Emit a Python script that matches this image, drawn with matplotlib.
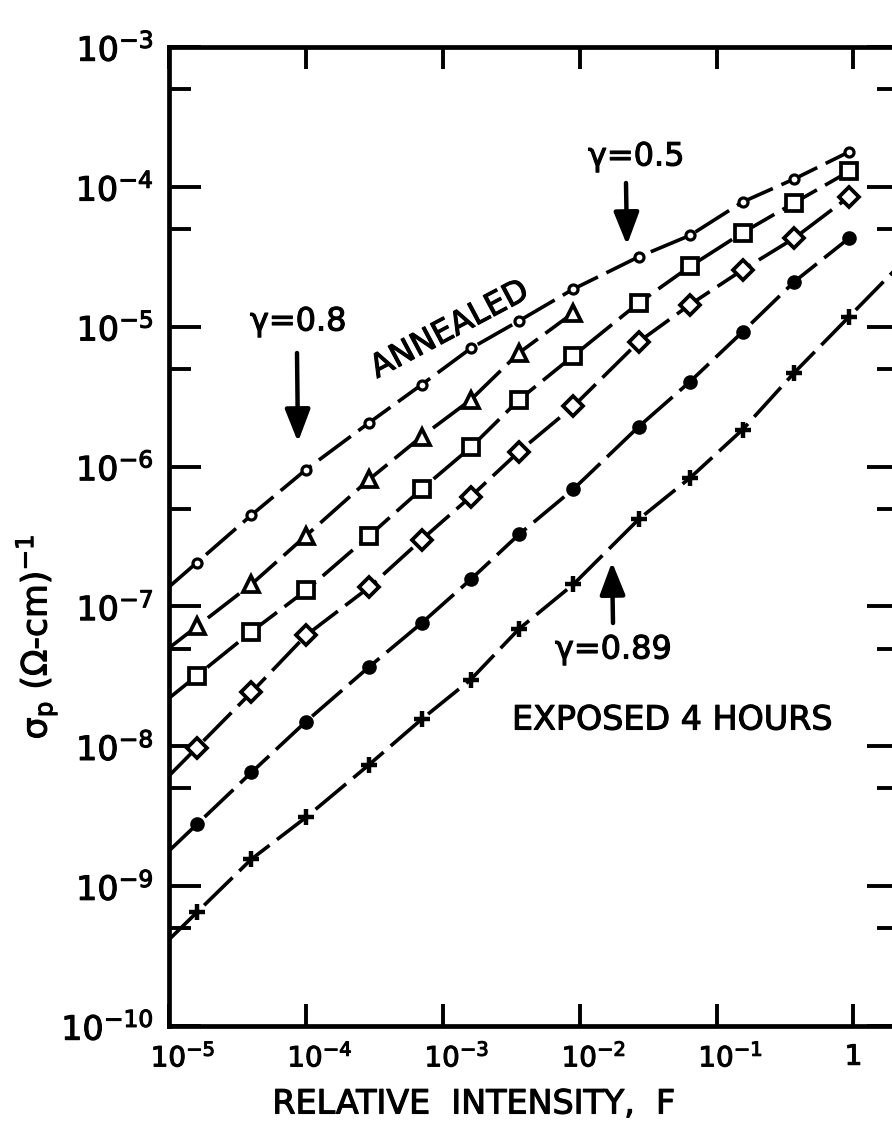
import numpy as np
import matplotlib
matplotlib.use("Agg")
import matplotlib.pyplot as plt
from matplotlib.ticker import FixedLocator, FixedFormatter, NullFormatter, NullLocator
import matplotlib.patheffects as pe
import matplotlib.transforms as mtransforms

plt.rcParams['font.family'] = ['DejaVu Sans']
plt.rcParams['mathtext.fontset'] = 'dejavusans'
plt.rcParams['mathtext.default'] = 'regular'

# ---------------- data ----------------
intensity = [1.6e-5, 4.0e-5, 1.0e-4, 2.9e-4, 7.0e-4, 1.6e-3, 3.6e-3,
             9.0e-3, 2.7e-2, 6.4e-2, 0.155, 0.37, 0.93]

annealed = [2.06e-7, 4.5e-7, 9.5e-7, 2.06e-6, 3.85e-6, 7.0e-6, 1.1e-5,
            1.86e-5, 3.16e-5, 4.5e-5, 7.8e-5, 1.14e-4, 1.78e-4]
triangle_x = intensity[:8]
triangle = [7.2e-8, 1.44e-7, 3.2e-7, 8.1e-7, 1.64e-6, 3.0e-6, 6.5e-6, 1.26e-5]
square = [3.2e-8, 6.6e-8, 1.3e-7, 3.2e-7, 6.9e-7, 1.37e-6, 3.0e-6,
          6.2e-6, 1.48e-5, 2.7e-5, 4.7e-5, 7.7e-5, 1.29e-4]
diamond = [9.8e-9, 2.43e-8, 6.2e-8, 1.37e-7, 3.0e-7, 6.1e-7, 1.28e-6,
           2.7e-6, 7.8e-6, 1.44e-5, 2.55e-5, 4.3e-5, 8.5e-5]
filled = [2.77e-9, 6.5e-9, 1.5e-8, 3.7e-8, 7.6e-8, 1.56e-7, 3.27e-7,
          6.9e-7, 1.93e-6, 4.05e-6, 9.2e-6, 2.1e-5, 4.3e-5]
exposed = [6.5e-10, 1.56e-9, 3.1e-9, 7.4e-9, 1.56e-8, 3.0e-8, 6.9e-8,
           1.44e-7, 4.2e-7, 8.3e-7, 1.84e-6, 4.7e-6, 1.18e-5]

x_ticks = [1e-5, 1e-4, 1e-3, 1e-2, 1e-1, 1]
x_ticklabels = [r'$10^{-5}$', r'$10^{-4}$', r'$10^{-3}$', r'$10^{-2}$', r'$10^{-1}$', '1']
y_ticks = [1e-10, 1e-9, 1e-8, 1e-7, 1e-6, 1e-5, 1e-4, 1e-3]
y_ticklabels = [r'$10^{-10}$', r'$10^{-9}$', r'$10^{-8}$', r'$10^{-7}$',
                r'$10^{-6}$', r'$10^{-5}$', r'$10^{-4}$', r'$10^{-3}$']
y_minor = [5e-10, 5e-9, 5e-8, 5e-7, 5e-6, 5e-5, 5e-4]

# ---------------- figure ----------------
W, H, DPI = 892, 1133, 100
fig = plt.figure(figsize=(W / DPI, H / DPI), dpi=DPI)

def fx(px):
    return px / W

def fy(py):
    return 1 - py / H

L, R, T, B = 169, 899, 47, 1026
ax = fig.add_axes([fx(L), fy(B), (R - L) / W, (B - T) / H])
ax.set_xscale('log')
ax.set_yscale('log')
XMIN, XMAX = 1e-5, 2.15
ax.set_xlim(XMIN, XMAX)
ax.set_ylim(1e-10, 1e-3)


def extend(xs, ys, x_new, side):
    """Extend a series along the slope of its end segment (log-log)."""
    lx, ly = np.log10(xs), np.log10(ys)
    if side == 'left':
        s = (ly[1] - ly[0]) / (lx[1] - lx[0])
        y_new = 10 ** (ly[0] + s * (np.log10(x_new) - lx[0]))
        return [x_new] + list(xs), [y_new] + list(ys)
    s = (ly[-1] - ly[-2]) / (lx[-1] - lx[-2])
    y_new = 10 ** (ly[-1] + s * (np.log10(x_new) - lx[-1]))
    return list(xs) + [x_new], list(ys) + [y_new]


LW = 2.6
DASH = (11, 2.6)
series = [
    (intensity, annealed, dict(marker='o', ms=6.5, mfc='white', mew=2.3), False),
    (triangle_x, triangle, dict(marker='^', ms=12, mfc='white', mew=2.7), False),
    (intensity, square, dict(marker='s', ms=11, mfc='white', mew=2.7), False),
    (intensity, diamond, dict(marker='D', ms=10, mfc='white', mew=2.7), False),
    (intensity, filled, dict(marker='o', ms=9, mfc='black', mew=1.5), False),
    (intensity, exposed, dict(marker='+', ms=11, mew=3.2), True),
]
for xs, ys, mk, ext_right in series:
    lx, ly = extend(xs, ys, XMIN, 'left')
    if ext_right:
        lx, ly = extend(lx, ly, XMAX, 'right')
    ax.plot(lx, ly, color='black', lw=LW, dashes=DASH, zorder=2,
            solid_capstyle='butt', dash_capstyle='butt')
    ax.plot(xs, ys, linestyle='none', color='black', mec='black',
            zorder=3, **mk)

# ---------------- axes styling ----------------
for sp in ax.spines.values():
    sp.set_linewidth(3.4)

ax.xaxis.set_major_locator(FixedLocator(x_ticks))
ax.xaxis.set_major_formatter(FixedFormatter(x_ticklabels))
ax.xaxis.set_minor_locator(NullLocator())
ax.yaxis.set_major_locator(FixedLocator(y_ticks))
ax.yaxis.set_major_formatter(FixedFormatter(y_ticklabels))
ax.yaxis.set_minor_locator(FixedLocator(y_minor))
ax.yaxis.set_minor_formatter(NullFormatter())

ax.tick_params(which='both', direction='in', top=True, right=True,
               width=2.8, color='black')
ax.tick_params(axis='y', which='major', length=23, pad=11, labelsize=24)
ax.tick_params(axis='y', which='minor', length=16)
ax.tick_params(axis='x', which='major', length=16, pad=12, labelsize=20)

thick = [pe.withStroke(linewidth=0.8, foreground='black')]

# shift "10" of x labels so it sits centred on the tick
off = mtransforms.ScaledTranslation(0.14, 0, fig.dpi_scale_trans)
for lbl in ax.get_xticklabels():
    lbl.set_path_effects(thick)
    if lbl.get_text() != '1':
        lbl.set_transform(lbl.get_transform() + off)
for lbl in ax.get_yticklabels():
    lbl.set_path_effects(thick)

# ---------------- labels & annotations ----------------
txt_kw = dict(path_effects=thick)
fig.text(fx(474), fy(1104), 'RELATIVE  INTENSITY,  F',
         fontsize=24, ha='center', va='center', **txt_kw)
fig.text(fx(36), fy(637), r'σ$_p$ (Ω-cm)$^{-1}$', fontsize=25,
         rotation=90, ha='center', va='center', **txt_kw)

tfs = 23
fig.text(fx(250), fy(322), 'γ=0.8', fontsize=tfs, ha='left', va='center', **txt_kw)
fig.text(fx(588), fy(157), 'γ=0.5', fontsize=tfs, ha='left', va='center', **txt_kw)
fig.text(fx(555), fy(650), 'γ=0.89', fontsize=tfs, ha='left', va='center', **txt_kw)
fig.text(fx(512), fy(720), 'EXPOSED 4 HOURS', fontsize=24, ha='left',
         va='center', **txt_kw)
fig.text(fx(450), fy(330), 'ANNEALED', fontsize=23, rotation=28,
         ha='center', va='center', rotation_mode='anchor', **txt_kw)

arrow_kw = dict(arrowstyle='-|>,head_length=0.9,head_width=0.35', lw=3.2,
                color='black', shrinkA=0, shrinkB=0, mutation_scale=22)
for tail, tip in [((297, 353), (298, 442)),
                  ((626, 183), (627, 245)),
                  ((613, 623), (612, 562))]:
    ax.annotate('', xy=(fx(tip[0]), fy(tip[1])), xycoords='figure fraction',
                xytext=(fx(tail[0]), fy(tail[1])), textcoords='figure fraction',
                arrowprops=arrow_kw, annotation_clip=False)

fig.savefig('out.png', dpi=DPI)
